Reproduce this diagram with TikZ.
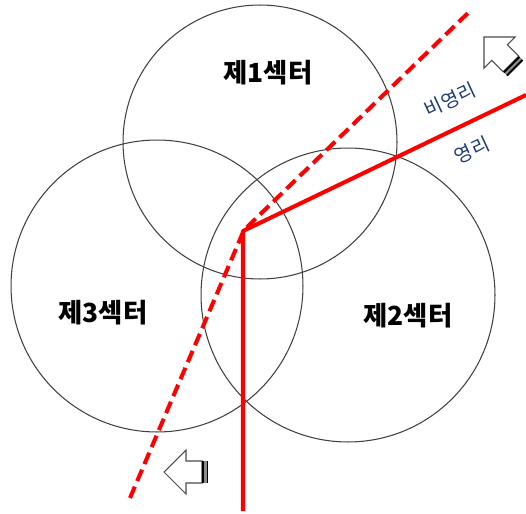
\documentclass[tikz,border=0pt]{standalone}
\usepackage{fontspec}
\newfontfamily\kr{Noto Sans CJK KR}
\usepackage{xcolor}
\definecolor{navy}{RGB}{31,56,120}
\usetikzlibrary{calc}

\begin{document}
\begin{tikzpicture}[
    x=0.02cm, y=-0.02cm,
    sector/.style={draw=black!75, line width=0.6pt},
    sectorlabel/.style={font=\kr\bfseries\fontsize{15}{17}\selectfont, text=black, inner sep=0pt},
    pathlabel/.style={font=\kr\fontsize{11}{13}\selectfont, text=navy, inner sep=0pt, rotate=25},
    profit/.style={red, line width=2.3pt, line join=round},
    nonprofit/.style={red, line width=2.3pt, dash pattern=on 7pt off 3.5pt},
    blockarrow/.style={draw=black!70, fill=white, line width=0.6pt}
]
    \useasboundingbox (0,0) rectangle (526,513);

    % three sectors
    \coordinate (c1) at (260,142);
    \coordinate (c2) at (348,295);
    \coordinate (c3) at (157,286);
    \draw[sector] (c1) circle[radius=2.74cm];
    \draw[sector] (c2) circle[radius=2.94cm];
    \draw[sector] (c3) circle[radius=2.92cm];

    \node[sectorlabel] (s1) at (268,73) {제1섹터};
    \node[sectorlabel] (s2) at (408,316) {제2섹터};
    \node[sectorlabel] (s3) at (103,313) {제3섹터};

    % profit / non-profit boundaries
    \coordinate (pbot) at (243,511);
    \coordinate (pbend) at (243,231);
    \coordinate (ptop) at (526,95);
    \coordinate (nbot) at (130,498);
    \coordinate (nbend) at (244,230);
    \coordinate (ntop) at (468,13);
    \draw[profit] (pbot) -- (pbend) -- (ptop);
    \draw[nonprofit] (nbot) -- (nbend) -- (ntop);

    \node[pathlabel] (np) at (450,100) {비영리};
    \node[pathlabel] (pr) at (472,150) {영리};

    % direction arrows
    \foreach \tx/\ty/\ang in {164/472/0, 484/37/-45} {
        \begin{scope}[shift={(\tx,\ty)}, rotate=\ang]
            \draw[blockarrow] (0,0) -- (22,-22) -- (22,-11) -- (38,-11) -- (38,11) -- (22,11) -- (22,22) -- cycle;
            \fill[black!45] (38,-11) rectangle (44,11);
            \draw[black, line width=1.1pt] (39,-11) -- (39,11);
            \draw[black, line width=1.1pt] (43.5,-11) -- (43.5,11);
        \end{scope}
    }
\end{tikzpicture}
\end{document}
